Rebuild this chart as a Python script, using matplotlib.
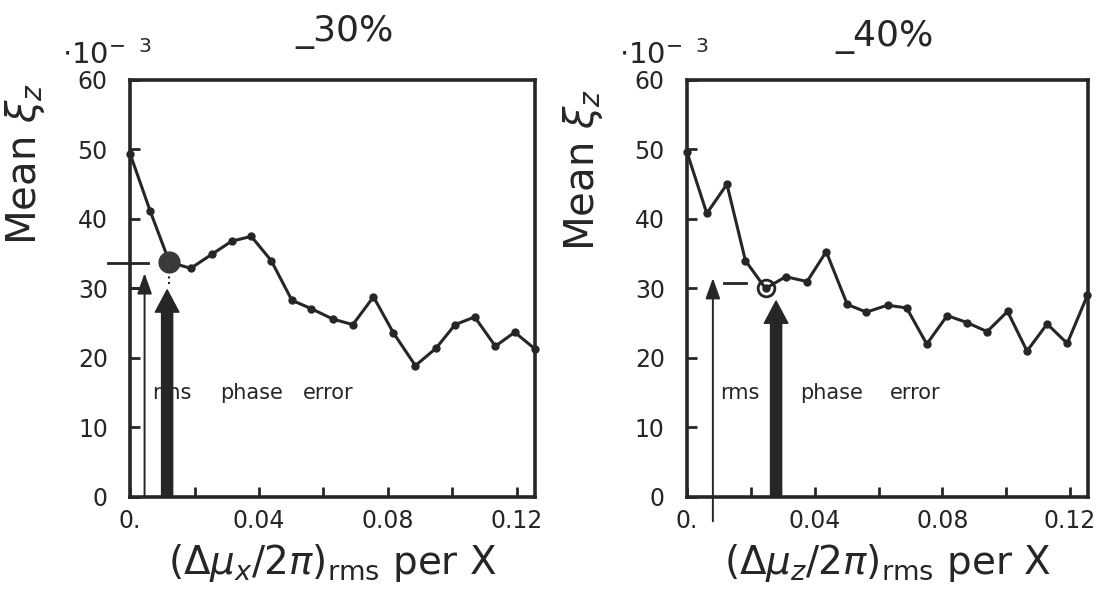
import matplotlib.pyplot as plt

# values (units of 1e-3 on y)
x_left = [0.0, 0.0062, 0.0122, 0.0188, 0.0253, 0.0315, 0.0376, 0.0438, 0.0502, 0.0562, 0.0629,
          0.0691, 0.0755, 0.0817, 0.0885, 0.0949, 0.1008, 0.1069, 0.1133, 0.1193, 0.1256]
y_left = [49.4, 41.2, 33.8, 32.9, 34.9, 36.8, 37.5, 34.0, 28.3, 27.1, 25.6,
          24.8, 28.8, 23.6, 18.9, 21.4, 24.8, 25.9, 21.7, 23.7, 21.3]

x_right = [0.0, 0.0062, 0.0125, 0.0183, 0.0246, 0.0309, 0.0376, 0.0436, 0.0502, 0.0562, 0.0628,
           0.0688, 0.0751, 0.0815, 0.0877, 0.0940, 0.1004, 0.1065, 0.1128, 0.1191, 0.1254]
y_right = [49.6, 40.8, 45.0, 34.0, 30.0, 31.7, 31.0, 35.3, 27.7, 26.6, 27.6,
           27.2, 22.0, 26.1, 25.1, 23.8, 26.7, 21.0, 24.9, 22.1, 29.0]

yticks = [0, 10, 20, 30, 40, 50, 60]
xticks = [0.0, 0.04, 0.08, 0.12]
xtick_labels = ['0.', '0.04', '0.08', '0.12']
xminor = [0.02, 0.06, 0.10]

titles = ['_30%', '_40%']
xlabels = [r'$(\Delta\mu_x/2\pi)_{\rm rms}$ per X', r'$(\Delta\mu_z/2\pi)_{\rm rms}$ per X']
note_words = ['rms', 'phase', 'error']
note_x_left = [0.0068, 0.0279, 0.0536]
note_x_right = [0.0103, 0.0353, 0.0635]
note_y = 15.0

# marked minimum, thin arrow and thick arrow (x, tip height)
left_min = (0.0122, 33.8)
right_min = (0.0246, 30.0)
left_thin = (0.0045, 32.2)
right_thin = (0.0081, 31.5)
left_thick = (0.0115, 29.8)
right_thick = (0.0279, 28.2)

ink = '#262626'

fig = plt.figure(figsize=(11.04, 5.89), dpi=100)
ax1 = fig.add_axes([0.1178, 0.1562, 0.3668, 0.708])
ax2 = fig.add_axes([0.6223, 0.1562, 0.3632, 0.708])


def setup_axes(ax, xlabel):
    ax.set_xlim(0, 0.1256)
    ax.set_ylim(0, 60)
    for side in ['top', 'right', 'left', 'bottom']:
        ax.spines[side].set_linewidth(2.6)
        ax.spines[side].set_color(ink)
    ax.set_xticks(xticks)
    ax.set_xticklabels(xtick_labels)
    ax.set_xticks(xminor, minor=True)
    ax.set_yticks(yticks)
    ax.tick_params(which='both', direction='in', length=7, width=2, colors=ink,
                   labelsize=17, top=False, right=False)
    ax.tick_params(axis='y', pad=16)
    ax.tick_params(axis='x', pad=9)
    ax.set_xlabel(xlabel, fontsize=28, color=ink, labelpad=6)
    ax.set_ylabel(r'Mean $\xi_z$', fontsize=29, color=ink)


def thick_arrow(ax, x, tip):
    ax.annotate('', xy=(x, tip), xytext=(x, 0),
                arrowprops=dict(arrowstyle='simple,head_length=0.8,head_width=0.85,tail_width=0.4',
                                mutation_scale=20, color=ink, shrinkA=0, shrinkB=0), zorder=5)


def thin_arrow(ax, x, tip, start=0):
    ax.annotate('', xy=(x, tip), xytext=(x, start), annotation_clip=False,
                arrowprops=dict(arrowstyle='-|>,head_length=0.7,head_width=0.25',
                                mutation_scale=18, lw=1.4, color=ink, shrinkA=0, shrinkB=0))


for ax, xs, ys, xl in [(ax1, x_left, y_left, xlabels[0]), (ax2, x_right, y_right, xlabels[1])]:
    setup_axes(ax, xl)
    ax.plot(xs, ys, color=ink, lw=2.2, marker='o', ms=5, clip_on=False, zorder=4)

ax1.yaxis.set_label_coords(-0.205, 0.80)
ax2.yaxis.set_label_coords(-0.205, 0.784)

# left panel annotations
ax1.plot(*left_min, 'o', ms=15, color='#3a3a3a', zorder=6)
ax1.plot([-0.0068, 0.0055], [33.7, 33.7], color=ink, lw=2, clip_on=False)
ax1.plot([0, left_thin[0]], [30, 30], color=ink, lw=2)
ax1.plot([left_min[0], left_min[0]], [30.6, 32.2], color=ink, lw=1.5, ls=':')
thin_arrow(ax1, *left_thin)
thick_arrow(ax1, *left_thick)
for word, xw in zip(note_words, note_x_left):
    ax1.text(xw, note_y, word, fontsize=15, color=ink, va='center', zorder=3)

# right panel annotations
ax2.plot(*right_min, 'o', ms=12, mfc='none', mec=ink, mew=2, zorder=6)
ax2.plot([0.0116, 0.0185], [30.8, 30.8], color=ink, lw=2)
thin_arrow(ax2, *right_thin, start=-3.5)
thick_arrow(ax2, *right_thick)
for word, xw in zip(note_words, note_x_right):
    ax2.text(xw, note_y, word, fontsize=15, color=ink, va='center', zorder=3)

# handwritten titles and scale factors
fig.text(0.3125, 0.945, titles[0], fontsize=26, color=ink, ha='center', va='center')
fig.text(0.8016, 0.938, titles[1], fontsize=26, color=ink, ha='center', va='center')
for x0 in [0.056, 0.561]:
    fig.text(x0, 0.881, r'$\cdot10^{-\ \ 3}$', fontsize=21, color=ink, ha='left', va='bottom')

fig.savefig('out.png', dpi=100)
